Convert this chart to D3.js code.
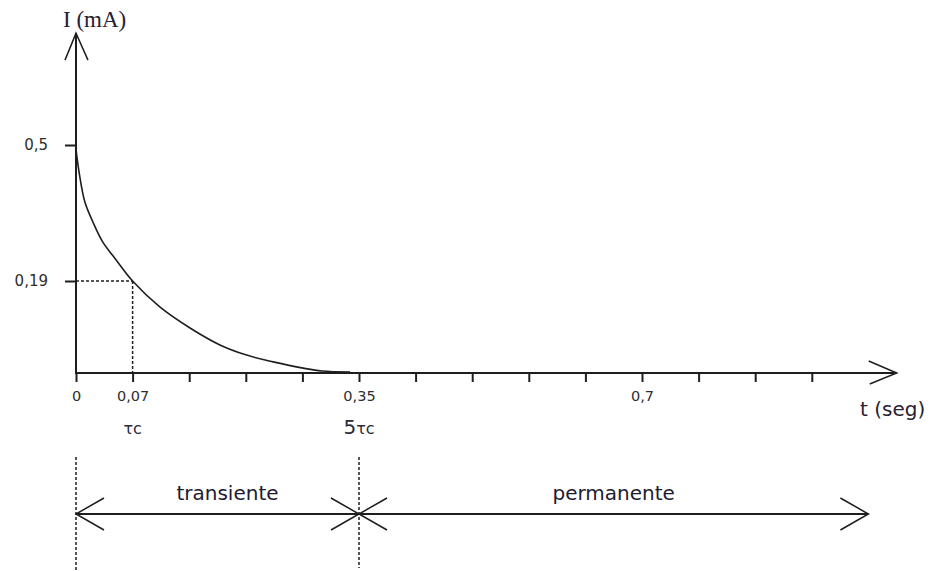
<!DOCTYPE html>
<html>
<head>
<meta charset="utf-8">
<script src="https://cdn.jsdelivr.net/npm/d3@7/dist/d3.min.js"></script>
<style>
  html, body { margin: 0; padding: 0; background: #fff; }
  svg { display: block; font-family: "DejaVu Sans", sans-serif; }
</style>
</head>
<body>
<svg id="chart" width="933" height="571"></svg>
<script>
// Discharge current of the RC circuit, I (mA) against t (seg)
const curveT = [0, 0.004, 0.011, 0.021, 0.033, 0.048, 0.07, 0.104, 0.141, 0.178, 0.211, 0.244, 0.281, 0.304, 0.339];
const curveI = [0.49, 0.436, 0.37, 0.324, 0.279, 0.242, 0.19, 0.136, 0.093, 0.058, 0.037, 0.023, 0.010, 0.004, 0.002];

// Time axis ticks (every 0.07 s) and the ones carrying a label
const xTickValues = [0, 0.07, 0.14, 0.21, 0.28, 0.35, 0.42, 0.49, 0.56, 0.63, 0.7, 0.77, 0.84, 0.91];
const xTickLabels = { 0: "0", 0.07: "0,07", 0.35: "0,35", 0.7: "0,7" };
const yTickValues = [0.5, 0.19];
const yTickLabels = ["0,5", "0,19"];

// Time constant marks
const tau = 0.07;
const tauMarks = [{ t: 0.07, pre: "", sym: "τc" }, { t: 0.35, pre: "5", sym: "τc" }];

// Regimes shown below the axis
const phaseNames = ["transiente", "permanente"];
const phaseStart = [0, 0.35];
const phaseEnd = [0.35, 0.98];

const xAxisEnd = 1.015;   // arrow tip of the t axis
const yAxisEnd = 0.755;   // arrow tip of the I axis

const svg = d3.select("#chart");
const ink = "#1e1e1e";

const x = d3.scaleLinear().domain([0, 0.35]).range([76, 359]);
const y = d3.scaleLinear().domain([0, 0.19, 0.5]).range([373, 281, 145]);

// Axes lines
svg.append("line")
  .attr("x1", x(0)).attr("y1", y(0)).attr("x2", x(xAxisEnd)).attr("y2", y(0))
  .attr("stroke", ink).attr("stroke-width", 2);
svg.append("line")
  .attr("x1", x(0)).attr("y1", y(0) + 1).attr("x2", x(0)).attr("y2", y(yAxisEnd))
  .attr("stroke", ink).attr("stroke-width", 2);

// Open arrow heads
function chevron(tipX, tipY, dx1, dy1, dx2, dy2, w) {
  svg.append("path")
    .attr("d", `M${tipX + dx1},${tipY + dy1}L${tipX},${tipY}L${tipX + dx2},${tipY + dy2}`)
    .attr("fill", "none").attr("stroke", ink).attr("stroke-width", w || 1.5);
}
chevron(x(xAxisEnd), y(0), -28, -12, -27, 11);
chevron(x(0), y(yAxisEnd), -11, 27, 12, 27);

// Time axis ticks
const xAxis = d3.axisBottom(x)
  .tickValues(xTickValues)
  .tickSize(9)
  .tickPadding(9)
  .tickFormat(d => xTickLabels[d] || "");
const gx = svg.append("g").attr("transform", `translate(0,${y(0)})`).call(xAxis);
gx.select(".domain").remove();
gx.selectAll(".tick line").attr("stroke", ink).attr("stroke-width", 2);
gx.selectAll(".tick text")
  .style("font-family", "'DejaVu Sans', sans-serif")
  .style("font-size", "14.5px").attr("fill", "#2e2e2e")
  .attr("dy", "0.71em");

// Current axis ticks
const yAxis = d3.axisLeft(y)
  .tickValues(yTickValues)
  .tickSize(11)
  .tickPadding(17)
  .tickFormat((d, i) => yTickLabels[i]);
const gy = svg.append("g").attr("transform", `translate(${x(0)},0)`).call(yAxis);
gy.select(".domain").remove();
gy.selectAll(".tick line").attr("stroke", ink).attr("stroke-width", 2);
gy.selectAll(".tick text")
  .style("font-family", "'DejaVu Sans', sans-serif")
  .style("font-size", "15px").attr("fill", "#2e2e2e");

// Guide lines at t = τc
const guide = "3,2";
svg.append("line")
  .attr("x1", x(0)).attr("y1", y(0.19)).attr("x2", x(tau)).attr("y2", y(0.19))
  .attr("stroke", ink).attr("stroke-width", 1.5).attr("stroke-dasharray", guide);
svg.append("line")
  .attr("x1", x(tau)).attr("y1", y(0.19)).attr("x2", x(tau)).attr("y2", y(0))
  .attr("stroke", ink).attr("stroke-width", 1.5).attr("stroke-dasharray", guide);

// Current curve
const pts = curveT.map((t, i) => [t, curveI[i]]);
svg.append("path")
  .datum(pts)
  .attr("d", d3.line().x(d => x(d[0])).y(d => y(d[1])).curve(d3.curveCatmullRom.alpha(0.5)))
  .attr("fill", "none").attr("stroke", ink).attr("stroke-width", 1.6);

// τc labels under the time ticks
tauMarks.forEach(m => {
  const t = svg.append("text")
    .attr("x", x(m.t)).attr("y", 434)
    .attr("text-anchor", "middle").attr("fill", "#2a2a3a");
  if (m.pre) t.append("tspan").style("font-size", "20px").text(m.pre);
  t.append("tspan").style("font-size", "16px").text(m.sym);
});

// Axis titles
svg.append("text")
  .attr("x", 63).attr("y", 27)
  .style("font-family", "'Liberation Serif', 'Times New Roman', serif")
  .style("font-size", "23px").attr("fill", "#2a2030")
  .text("I (mA)");
svg.append("text")
  .attr("x", 860).attr("y", 416)
  .style("font-size", "20px").attr("fill", "#2a2030")
  .text("t (seg)");

// Regime boundaries and span arrows
const spanY = 514;
[0, 0.35].forEach((t, i) => {
  svg.append("line")
    .attr("x1", x(t)).attr("x2", x(t))
    .attr("y1", 457).attr("y2", i === 0 ? 571 : 568)
    .attr("stroke", ink).attr("stroke-width", 1.5).attr("stroke-dasharray", guide);
});
phaseNames.forEach((name, i) => {
  const a = x(phaseStart[i]), b = x(phaseEnd[i]);
  svg.append("line")
    .attr("x1", a).attr("y1", spanY).attr("x2", b).attr("y2", spanY)
    .attr("stroke", ink).attr("stroke-width", 2);
  chevron(a, spanY, 28, -16, 28, 16);
  chevron(b, spanY, -28, -16, -28, 16);
  svg.append("text")
    .attr("x", (a + b) / 2 + (i === 0 ? 10 : 0)).attr("y", 500)
    .attr("text-anchor", "middle")
    .style("font-size", "20px").attr("fill", "#1e1a30")
    .text(name);
});
</script>
</body>
</html>
